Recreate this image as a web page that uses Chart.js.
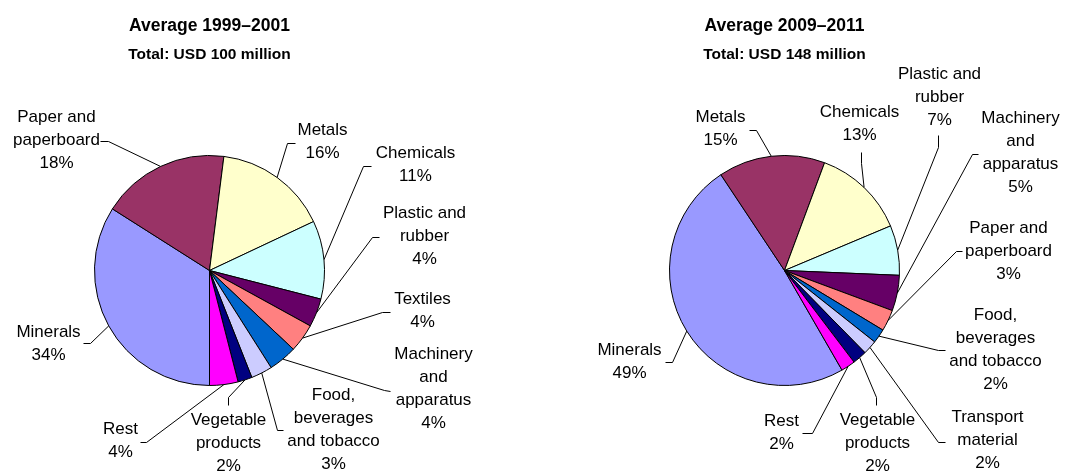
<!DOCTYPE html>
<html>
<head>
<meta charset="utf-8">
<script src="https://cdn.jsdelivr.net/npm/chart.js@4.4.0/dist/chart.umd.min.js"></script>
<style>
  html, body { margin: 0; padding: 0; background: #fff; }
  #wrap { position: relative; width: 1076px; height: 473px; }
  #wrap canvas { position: absolute; top: 0; }
</style>
</head>
<body>
<div id="wrap">
  <canvas id="pie-early" width="538" height="473" style="left:0"></canvas>
  <canvas id="pie-late" width="538" height="473" style="left:538px"></canvas>
</div>
<script>
// export shares by product group, in %
const categoriesEarly = ["Minerals", "Paper and paperboard", "Metals", "Chemicals", "Plastic and rubber",
  "Textiles", "Machinery and apparatus", "Food, beverages and tobacco", "Vegetable products", "Rest"];
const sharesEarly = [34, 18, 16, 11, 4, 4, 4, 3, 2, 4];

const categoriesLate = ["Minerals", "Metals", "Chemicals", "Plastic and rubber", "Machinery and apparatus",
  "Paper and paperboard", "Food, beverages and tobacco", "Transport material", "Vegetable products", "Rest"];
const sharesLate = [49, 15, 13, 7, 5, 3, 2, 2, 2, 2];

const sliceColors = ["#9999FF", "#993366", "#FFFFCC", "#CCFFFF", "#660066",
  "#FF8080", "#0066CC", "#CCCCFF", "#000080", "#FF00FF"];

// how long names wrap in the labels
const lineBreaks = {
  "Paper and paperboard": ["Paper and", "paperboard"],
  "Plastic and rubber": ["Plastic and", "rubber"],
  "Machinery and apparatus": ["Machinery", "and", "apparatus"],
  "Food, beverages and tobacco": ["Food,", "beverages", "and tobacco"],
  "Vegetable products": ["Vegetable", "products"],
  "Transport material": ["Transport", "material"]
};

// label placement relative to the pie centre: text centre of first line, leader elbow, leader end
const pieSetup = {
  "pie-early": {
    title: "Average 1999\u20132001",
    subtitle: "Total: USD 100 million",
    rotation: 180,
    padding: { left: 94, right: 213, top: 155, bottom: 87 },
    place: [
      { text: [-161, 62], elbow: [-119, 73], end: [-126, 73] },
      { text: [-153, -153], elbow: [-101, -129], end: [-109, -129] },
      { text: [113, -140], elbow: [78, -127], end: [86, -127] },
      { text: [206, -117], elbow: [154, -104], end: [162, -104] },
      { text: [215, -57], elbow: [163, -33], end: [170, -33] },
      { text: [213, 29], elbow: [173, 42], end: [181, 42] },
      { text: [224, 84], elbow: [175, 120], end: [181, 121] },
      { text: [124, 125], elbow: [68, 160], end: [74, 160] },
      { text: [19, 150], elbow: [19, 127], end: [19, 135] },
      { text: [-89, 159], elbow: [-63, 172], end: [-69, 172] }
    ]
  },
  "pie-late": {
    title: "Average 2009\u20132011",
    subtitle: "Total: USD 148 million",
    rotation: 150,
    padding: { left: 131, right: 176, top: 155, bottom: 87 },
    place: [
      { text: [-155, 80], elbow: [-112, 92], end: [-119, 92] },
      { text: [-64, -153], elbow: [-28, -140], end: [-35, -140] },
      { text: [75, -158], elbow: [77, -107], end: [77, -118] },
      { text: [155, -196], elbow: [154, -123], end: [154, -135] },
      { text: [236, -152], elbow: [188, -116], end: [194, -116] },
      { text: [224, -42], elbow: [172, -19], end: [178, -19] },
      { text: [211, 45], elbow: [154, 80], end: [161, 80] },
      { text: [203, 147], elbow: [154, 172], end: [161, 172] },
      { text: [93, 150], elbow: [92, 127], end: [92, 135] },
      { text: [-3, 151], elbow: [28, 163], end: [18, 163] }
    ]
  }
};

const FONT = '"Liberation Sans", Arial, sans-serif';

const leaderLabels = {
  id: "leaderLabels",
  afterDatasetsDraw(chart) {
    const setup = pieSetup[chart.canvas.id];
    const ctx = chart.ctx;
    const meta = chart.getDatasetMeta(0);
    const values = chart.data.datasets[0].data;
    const cx = meta.data[0].x;
    const cy = meta.data[0].y;

    ctx.save();
    ctx.fillStyle = "#000";
    ctx.textAlign = "center";
    ctx.textBaseline = "middle";
    ctx.font = "bold 17.5px " + FONT;
    ctx.fillText(setup.title, cx, 26);
    ctx.font = "bold 15.5px " + FONT;
    ctx.fillText(setup.subtitle, cx, 55);

    ctx.font = "17px " + FONT;
    ctx.strokeStyle = "#000";
    ctx.lineWidth = 1;
    meta.data.forEach((arc, i) => {
      const p = setup.place[i];
      const mid = (arc.startAngle + arc.endAngle) / 2;
      const r = arc.outerRadius;
      ctx.beginPath();
      ctx.moveTo(cx + Math.cos(mid) * r, cy + Math.sin(mid) * r);
      ctx.lineTo(cx + p.elbow[0], cy + p.elbow[1]);
      ctx.lineTo(cx + p.end[0], cy + p.end[1]);
      ctx.stroke();

      const name = chart.data.labels[i];
      const lines = (lineBreaks[name] || [name]).concat(values[i] + "%");
      lines.forEach((t, k) => ctx.fillText(t, cx + p.text[0], cy + p.text[1] + k * 23));
    });
    ctx.restore();
  }
};

function makePie(id, labels, values) {
  const setup = pieSetup[id];
  return new Chart(id, {
    type: "pie",
    data: {
      labels: labels,
      datasets: [{
        data: values,
        backgroundColor: sliceColors,
        borderColor: "#000",
        borderWidth: 1
      }]
    },
    options: {
      responsive: false,
      animation: false,
      rotation: setup.rotation,
      layout: { padding: setup.padding },
      plugins: {
        legend: { display: false },
        tooltip: { enabled: false }
      }
    },
    plugins: [leaderLabels]
  });
}

makePie("pie-early", categoriesEarly, sharesEarly);
makePie("pie-late", categoriesLate, sharesLate);
</script>
</body>
</html>
